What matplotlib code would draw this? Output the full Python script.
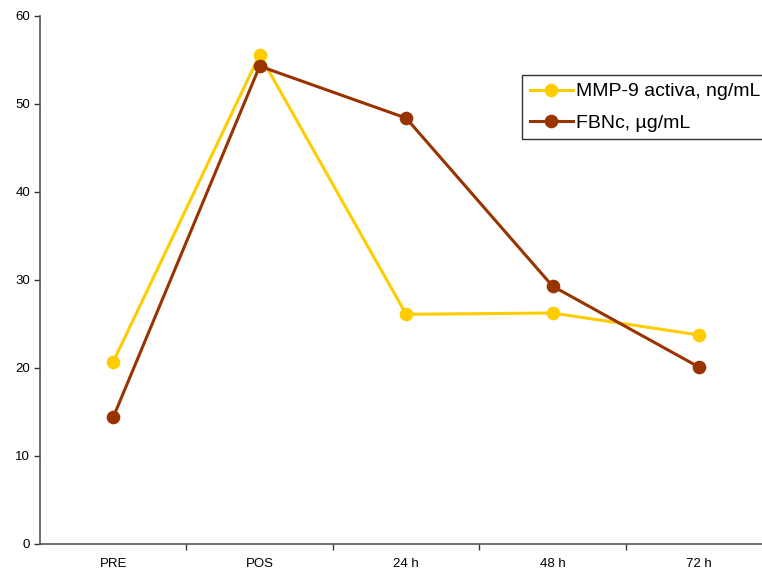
import matplotlib
matplotlib.use("Agg")
import matplotlib.pyplot as plt
import numpy as np

plt.rcParams["font.family"] = ["Liberation Sans", "DejaVu Sans"]

categories = ["PRE", "POS", "24 h", "48 h", "72 h"]
mmp9 = [20.7, 55.6, 26.1, 26.25, 23.75]
fbnc = [14.4, 54.3, 48.4, 29.3, 20.1]

yellow = "#FFCC00"
brown = "#993300"

fig = plt.figure(figsize=(7.62, 5.79), dpi=100)
ax = fig.add_axes([40 / 762, 35 / 579, 722 / 762, 528 / 579])

x = np.arange(len(categories))
ax.plot(x, mmp9, color=yellow, lw=2.2, marker="o", ms=8.8, label="MMP-9 activa, ng/mL")
ax.plot(x, fbnc, color=brown, lw=2.2, marker="o", ms=8.8, label="FBNc, µg/mL")

# labels centred on categories, tick marks on boundaries
ax.set_xticks(x)
ax.set_xticklabels(categories)
ax.set_xticks(np.arange(0.5, len(categories), 1.0), minor=True)
ax.tick_params(axis="x", which="major", length=0, pad=10, labelsize=9.5)
ax.tick_params(axis="x", which="minor", length=4, direction="out", width=1, color="#333333")
ax.tick_params(axis="y", length=4, width=1, labelsize=9.5, color="#333333", pad=3)

ax.set_ylim(0, 60)
ax.set_yticks(range(0, 61, 10))
# set after the ticks so the last category slot runs past the right edge
ax.set_xlim(-0.5, 4.43)

for side in ["top", "right"]:
    ax.spines[side].set_visible(False)
for side in ["left", "bottom"]:
    ax.spines[side].set_color("#555555")
    ax.spines[side].set_linewidth(1.2)

leg = ax.legend(loc="upper left", bbox_to_anchor=(522 / 762, 1 - 75 / 579),
                bbox_transform=fig.transFigure, fontsize=14, frameon=True,
                fancybox=False, edgecolor="black", borderpad=0.4,
                handlelength=2.2, handletextpad=0.2, labelspacing=0.7,
                borderaxespad=0)
leg.get_frame().set_linewidth(1.0)

fig.savefig("out.png", dpi=100)
